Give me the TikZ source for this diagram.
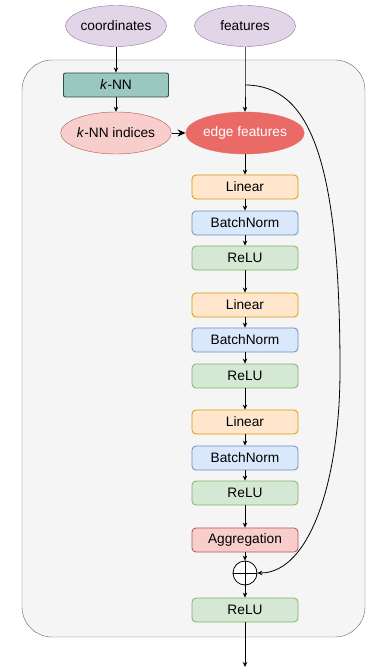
\documentclass[tikz,border=0pt]{standalone}
\usepackage{fontspec}
\setmainfont{Liberation Sans}
\usepackage{xcolor}
\usepackage{tikz}
\usetikzlibrary{arrows.meta, shapes.geometric}

\definecolor{inputfill}{HTML}{E1D5E7}
\definecolor{inputline}{HTML}{9673A6}
\definecolor{linfill}{HTML}{FFE6CC}
\definecolor{linline}{HTML}{D79B00}
\definecolor{bnfill}{HTML}{DAE8FC}
\definecolor{bnline}{HTML}{6C8EBF}
\definecolor{relufill}{HTML}{D5E8D4}
\definecolor{reluline}{HTML}{82B366}
\definecolor{redfill}{HTML}{F8CECC}
\definecolor{redline}{HTML}{B85450}
\definecolor{edgefill}{HTML}{EA6B66}
\definecolor{knnfill}{HTML}{9AC7BF}
\definecolor{knnline}{HTML}{2F4F4A}
\definecolor{blockfill}{HTML}{F5F5F5}
\definecolor{blockline}{HTML}{666666}

\begin{document}
\begin{tikzpicture}[x=1pt, y=-1pt,
  every node/.style={font=\fontsize{13.7}{16}\selectfont, inner sep=0pt},
  inputnode/.style={ellipse, draw=inputline, fill=inputfill, minimum width=101pt, minimum height=41pt},
  layer/.style={rectangle, rounded corners=4pt, minimum width=106pt, minimum height=24pt, line width=0.8pt},
  linear/.style={layer, draw=linline, fill=linfill},
  bnorm/.style={layer, draw=bnline, fill=bnfill},
  relu/.style={layer, draw=reluline, fill=relufill},
  arr/.style={-{Stealth[length=5pt, width=4.5pt]}, line width=0.8pt},
  bigarr/.style={-{Stealth[length=8pt, width=7pt]}, line width=0.9pt}]
\useasboundingbox (0,0) rectangle (380,668);
% \draw[help lines, red] (0,0) grid[step=20pt] (380,668);
\draw[blockline, fill=blockfill, rounded corners=30pt](22,60) rectangle (365,637);

\node[inputnode] (coords) at (116,26) {coordinates};
\node[inputnode] (feats) at (245,26) {features};
\node[rectangle, rounded corners=2pt, draw=knnline, fill=knnfill, line width=0.9pt, minimum width=105pt, minimum height=24pt] (knn) at (116,85) {\textit{k}-NN};
\node[ellipse, draw=redline, fill=redfill, minimum width=100pt, minimum height=42pt] (idx) at (116,133) {\textit{k}-NN indices};
\node[ellipse, draw=edgefill, fill=edgefill, text=white, minimum width=101pt, minimum height=42pt] (edge) at (245,133) {edge features};
\coordinate (split) at (245,85);

\node[linear] (lin1) at (245,187) {Linear};
\node[bnorm] (bn1) at (245,223) {BatchNorm};
\node[relu] (relu1) at (245,258) {ReLU};
\node[linear] (lin2) at (245,305) {Linear};
\node[bnorm] (bn2) at (245,340) {BatchNorm};
\node[relu] (relu2) at (245,376) {ReLU};
\node[linear] (lin3) at (245,422) {Linear};
\node[bnorm] (bn3) at (245,458) {BatchNorm};
\node[relu] (relu3) at (245,493) {ReLU};
\node[layer, draw=redline, fill=redfill] (agg) at (245,540) {Aggregation};
\node[circle, draw, fill=white, line width=0.8pt, minimum size=24pt] (add) at (245,573) {};
\draw[line width=0.8pt](add.north)--(add.south);
\draw[line width=0.8pt](add.west)--(add.east);
\node[relu] (relu4) at (245,610) {ReLU};
\coordinate (out) at (245,667);

\draw[arr](coords)--(knn);
\draw[arr](knn)--(idx);
\draw[arr](feats)--(split)--(edge);
\draw[bigarr](idx)--(edge);
\draw[arr](edge)--(lin1);
\draw[arr](lin1)--(bn1);
\draw[arr](bn1)--(relu1);
\draw[arr](relu1)--(lin2);
\draw[arr](lin2)--(bn2);
\draw[arr](bn2)--(relu2);
\draw[arr](relu2)--(lin3);
\draw[arr](lin3)--(bn3);
\draw[arr](bn3)--(relu3);
\draw[arr](relu3)--(agg);
\draw[arr](agg)--(add);
\draw[arr](add)--(relu4);
\draw[arr](relu4)--(out);
\draw[arr](split) .. controls (310,85) and (340,160) .. (340,370) .. controls (340,480) and (310,573) .. (add.east);
\end{tikzpicture}
\end{document}
